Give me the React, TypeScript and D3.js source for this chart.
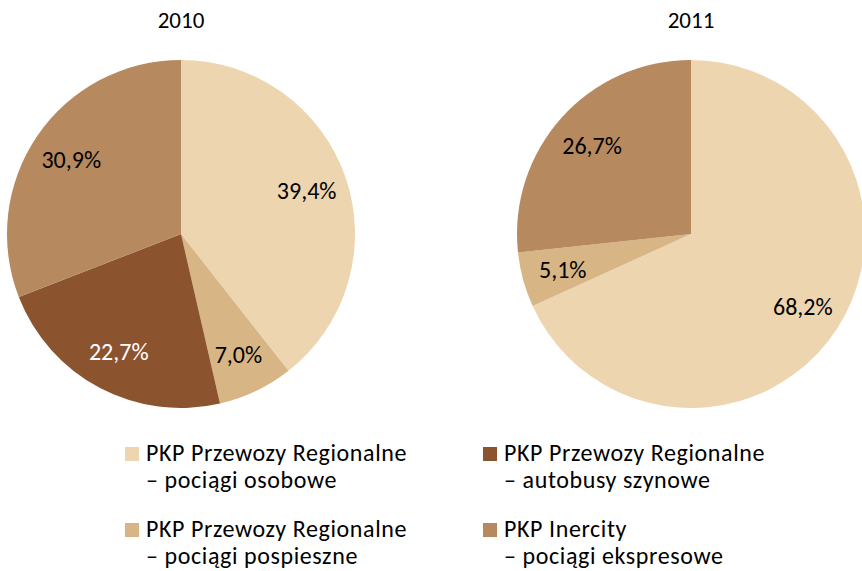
import React from "react";
import * as d3 from "d3";

// udział przewoźników – dane z wykresu
const years = ["2010", "2011"];
const seriesKeys = ["osobowe", "pospieszne", "autobusy", "ekspresowe"];
const values2010 = [39.4, 7.0, 22.7, 30.9];
const values2011 = [68.2, 5.1, 0, 26.7];
const colors = ["#EDD5B0", "#D8B584", "#8C532F", "#B6895F"];
const labelColors = ["#000", "#000", "#fff", "#000"];
const legendLines = [
  ["PKP Przewozy Regionalne", "– pociągi osobowe"],
  ["PKP Przewozy Regionalne", "– pociągi pospieszne"],
  ["PKP Przewozy Regionalne", "– autobusy szynowe"],
  ["PKP Inercity", "– pociągi ekspresowe"],
];
// kolejność w legendzie: kolumna, wiersz
const legendCol = [0, 0, 1, 1];
const legendRow = [0, 1, 0, 1];

const W = 862;
const H = 571;
const FONT = "Carlito, Lato, sans-serif";

const fmt = (v: number) => v.toFixed(1).replace(".", ",") + "%";

function Pie({ cx, cy, values, title }: { cx: number; cy: number; values: number[]; title: string }) {
  const r = 174;
  const pie = d3.pie<number>().sort(null).value((d) => d);
  const arcs = pie(values);
  const arc = d3.arc<d3.PieArcDatum<number>>().innerRadius(0).outerRadius(r);
  const labelArc = d3.arc<d3.PieArcDatum<number>>().innerRadius(133).outerRadius(133);
  return (
    <g transform={`translate(${cx},${cy})`}>
      <text x={0} y={-r - 32} textAnchor="middle" fontSize={23} fontFamily={FONT} fill="#000">
        {title}
      </text>
      {arcs.map((a, i) =>
        a.value > 0 ? <path key={seriesKeys[i]} d={arc(a) || ""} fill={colors[i]} /> : null
      )}
      {arcs.map((a, i) => {
        if (a.value <= 0) return null;
        const [x, y] = labelArc.centroid(a);
        return (
          <text
            key={"l" + i}
            x={x}
            y={y}
            dy="0.36em"
            textAnchor="middle"
            fontSize={24}
            fontFamily={FONT}
            fill={labelColors[i]}
          >
            {fmt(a.value)}
          </text>
        );
      })}
    </g>
  );
}

export default function App() {
  const colX = d3.scaleOrdinal<number, number>().domain([0, 1]).range([125, 483]);
  const rowY = d3.scaleOrdinal<number, number>().domain([0, 1]).range([461, 537]);
  return (
    <div style={{ position: "absolute", left: 0, top: 0 }}>
      <svg width={W} height={H} style={{ display: "block", background: "#fff" }}>
        <Pie cx={181} cy={234} values={values2010} title={years[0]} />
        <Pie cx={691} cy={234} values={values2011} title={years[1]} />
        {legendLines.map((lines, i) => {
          const x = colX(legendCol[i]);
          const y = rowY(legendRow[i]);
          return (
            <g key={"lg" + i} fontSize={24} fontFamily={FONT} fill="#000" letterSpacing={0.6}>
              <rect x={x} y={y - 14} width={14} height={14} fill={colors[i]} />
              <text x={x + 21} y={y}>
                {lines[0]}
              </text>
              <text x={x + 21} y={y + 27}>
                {lines[1]}
              </text>
            </g>
          );
        })}
      </svg>
    </div>
  );
}
